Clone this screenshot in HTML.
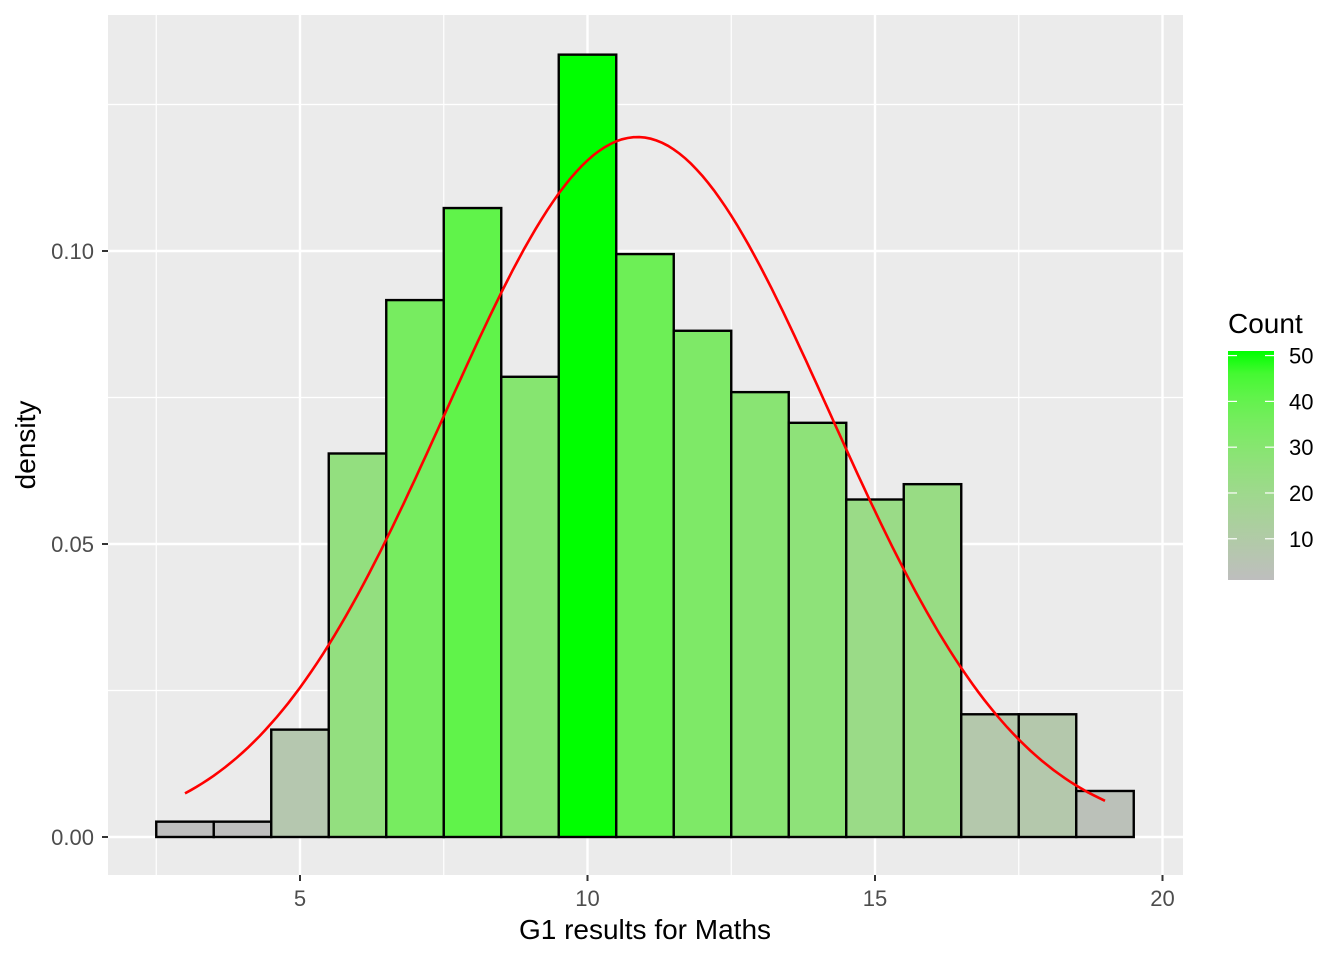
<!DOCTYPE html>
<html><head><meta charset="utf-8"><style>
body{margin:0;background:#fff;font-family:"Liberation Sans",sans-serif;}
</style></head><body>
<svg id="chart" width="1344" height="960" xmlns="http://www.w3.org/2000/svg">
<defs><linearGradient id="lg" x1="0" y1="1" x2="0" y2="0" id2="g"></linearGradient></defs>
<rect x="108" y="15" width="1075" height="860" fill="#EBEBEB"/>
<g id="grid"></g><g id="bars"></g><g id="curve"></g><g id="axes"></g>
<text x="645" y="939" font-size="28" text-anchor="middle" fill="#000">G1 results for Maths</text>
<text transform="translate(35,445) rotate(-90)" font-size="28" text-anchor="middle" fill="#000">density</text>
<g>
<text x="1228" y="333" font-size="28" fill="#000">Count</text>
<rect x="1228" y="351" width="46" height="229" fill="url(#lg)"/>
<g id="leg"></g>
</g>
</svg>
<script>
const bins=[3,4,5,6,7,8,9,10,11,12,13,14,15,16,17,18,19];
const counts=[1,1,7,25,35,41,30,51,38,33,29,27,22,23,8,8,3];
const xTicks=[5,10,15,20];
const yTicks=[0,0.05,0.10];
const yTickLabels=["0.00","0.05","0.10"];
const legendTicks=[10,20,30,40,50];
const curveMean=10.87, curveSd=3.34;
const NS="http://www.w3.org/2000/svg";
const X=v=>300+(v-5)*57.5, Y=d=>837-d*5860;
const n=counts.reduce((a,b)=>a+b,0);
const cmin=Math.min(...counts), cmax=Math.max(...counts);
function mk(tag,attrs,parent){const e=document.createElementNS(NS,tag);for(const k in attrs)e.setAttribute(k,attrs[k]);parent.appendChild(e);return e;}
// Lab interpolation
function s2l(c){c/=255;return c<=0.04045?c/12.92:Math.pow((c+0.055)/1.055,2.4);}
function l2s(c){c=c<=0.0031308?12.92*c:1.055*Math.pow(c,1/2.4)-0.055;return Math.max(0,Math.min(255,Math.round(c*255)));}
function toLab(r,g,b){r=s2l(r);g=s2l(g);b=s2l(b);
 let x=(0.4124*r+0.3576*g+0.1805*b)/0.95047,y=0.2126*r+0.7152*g+0.0722*b,z=(0.0193*r+0.1192*g+0.9505*b)/1.08883;
 const f=t=>t>0.008856?Math.cbrt(t):7.787*t+16/116;
 return [116*f(y)-16,500*(f(x)-f(y)),200*(f(y)-f(z))];}
function fromLab(L,a,b){const fy=(L+16)/116,fx=fy+a/500,fz=fy-b/200;
 const fi=t=>t*t*t>0.008856?t*t*t:(t-16/116)/7.787;
 const x=fi(fx)*0.95047,y=fi(fy),z=fi(fz)*1.08883;
 const r=3.2406*x-1.5372*y-0.4986*z,g=-0.9689*x+1.8758*y+0.0415*z,bb=0.0557*x-0.2040*y+1.0570*z;
 return `rgb(${l2s(r)},${l2s(g)},${l2s(bb)})`;}
const LO=toLab(190,190,190),HI=toLab(0,255,0);
function colT(t){return fromLab(LO[0]+(HI[0]-LO[0])*t,LO[1]+(HI[1]-LO[1])*t,LO[2]+(HI[2]-LO[2])*t);}
function col(c){return colT((c-cmin)/(cmax-cmin));}
const lg=document.getElementById('lg');
for(let i=0;i<=10;i++){mk('stop',{offset:i/10,'stop-color':colT(i/10)},lg);}
const grid=document.getElementById('grid');
[2.5,7.5,12.5,17.5].forEach(v=>{const l=mk('line',{x1:X(v),x2:X(v),y1:15,y2:875,stroke:'#fff','stroke-width':1.2},grid);});
[0.025,0.075,0.125].forEach(v=>{const l=mk('line',{x1:108,x2:1183,y1:Y(v),y2:Y(v),stroke:'#fff','stroke-width':1.2},grid);});
xTicks.forEach(v=>{const l=mk('line',{x1:X(v),x2:X(v),y1:15,y2:875,stroke:'#fff','stroke-width':2.4},grid);});
yTicks.forEach(v=>{const l=mk('line',{x1:108,x2:1183,y1:Y(v),y2:Y(v),stroke:'#fff','stroke-width':2.4},grid);});
const bars=document.getElementById('bars');
bins.forEach((b,i)=>{const d=counts[i]/n;const r=mk('rect',{x:X(b-0.5),y:Y(d),width:57.5,height:Y(0)-Y(d),fill:col(counts[i]),stroke:'#000','stroke-width':2.4},bars);

});
let pts=[];for(let x=3;x<=19.001;x+=0.1){const d=Math.exp(-((x-curveMean)**2)/(2*curveSd*curveSd))/(curveSd*Math.sqrt(2*Math.PI));pts.push(X(x).toFixed(1)+','+Y(d).toFixed(1));}
const p=mk('polyline',{points:pts.join(' '),fill:'none',stroke:'#FF0000','stroke-width':2.6},document.getElementById('curve'));


const ax=document.getElementById('axes');
xTicks.forEach(v=>{mk('line',{x1:X(v),x2:X(v),y1:875,y2:881,stroke:'#333','stroke-width':2},ax);
const t=mk('text',{x:X(v),y:906,'font-size':22,'text-anchor':'middle',fill:'#4D4D4D'},ax);t.textContent=v;

});
yTicks.forEach((v,i)=>{mk('line',{x1:102,x2:108,y1:Y(v),y2:Y(v),stroke:'#333','stroke-width':2},ax);
const t=mk('text',{x:94,y:Y(v)+8,'font-size':22,'text-anchor':'end',fill:'#4D4D4D'},ax);t.textContent=yTickLabels[i];

});
const leg=document.getElementById('leg');
legendTicks.forEach(v=>{const y=580-(v-cmin)/(cmax-cmin)*229;
mk('line',{x1:1228,x2:1237,y1:y,y2:y,stroke:'#fff','stroke-width':1.2},leg);
mk('line',{x1:1265,x2:1274,y1:y,y2:y,stroke:'#fff','stroke-width':1.2},leg);
const t=mk('text',{x:1289,y:y+8,'font-size':22,fill:'#000'},leg);t.textContent=v;

});
</script>
</body></html>
